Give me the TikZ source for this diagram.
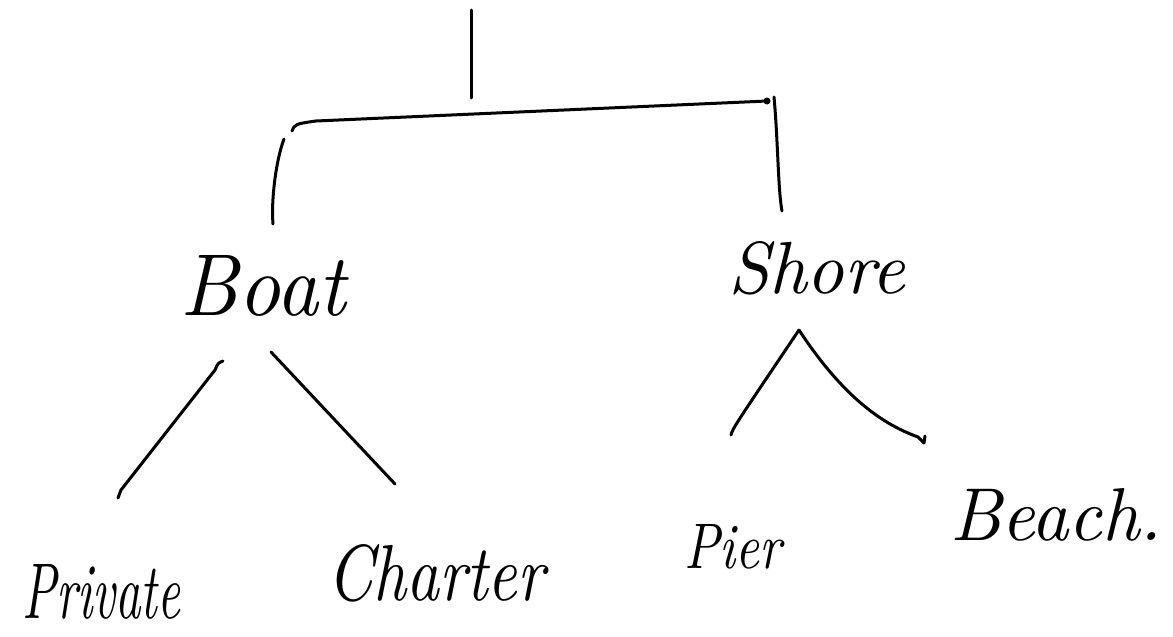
\documentclass[tikz,border=0pt]{standalone}
\begin{document}
\begin{tikzpicture}[x=1pt,y=-1pt,
  pen/.style={draw=black,line width=3pt,line cap=round,line join=round},
  word/.style={inner sep=0pt,anchor=base west,font=\itshape}]
\useasboundingbox[fill=white] (0,0) rectangle (1173,637);
% labels
\node[word] (boat) at (180,315) {\resizebox{165pt}{60pt}{Boat}};
\node[word] (shore) at (728,293) {\resizebox{177pt}{52pt}{Shore}};
\node[word] (private) at (22,618) {\resizebox{158pt}{54pt}{Private}};
\node[word] (charter) at (327,600) {\resizebox{217pt}{56pt}{Charter}};
\node[word] (pier) at (684,568) {\resizebox{97pt}{44pt}{Pier}};
\node[word] (beach) at (950,540) {\resizebox{212pt}{52pt}{Beach.}};
% connector points
\coordinate (rootT) at (471,10);
\coordinate (rootB) at (471,98);
\coordinate (brL) at (292,131);
\coordinate (brR) at (767,101);
\coordinate (rvT) at (774,97);
\coordinate (rvB) at (782,211);
\coordinate (lvT) at (284,139);
\coordinate (lvB) at (273,224);
\coordinate (bl1) at (223,361);
\coordinate (bl2) at (118,498);
\coordinate (br1) at (271,352);
\coordinate (br2) at (395,484);
\coordinate (apex) at (799,330);
\coordinate (sl2) at (731,435);
\coordinate (sr2) at (924,443);
% drawing
\draw[pen] (rootT) -- (rootB);
\draw[pen] (brL) .. controls (295,124) .. (316,121) -- (brR);
\fill (brR) circle (3.5);
\draw[pen] (rvT) .. controls (778,140) and (778,190) .. (rvB);
\draw[pen] (lvT) .. controls (276,160) and (271,200) .. (lvB);
\draw[pen] (bl1) .. controls (218,363) .. (215,370) -- (121,490) -- (bl2);
\draw[pen] (br1) -- (br2);
\draw[pen] (sl2) .. controls (733,428) .. (apex);
\draw[pen] (apex) .. controls (845,400) and (885,425) .. (918,437) -- (sr2);
\draw[pen] (sr2) -- (925,436);
\end{tikzpicture}
\end{document}
